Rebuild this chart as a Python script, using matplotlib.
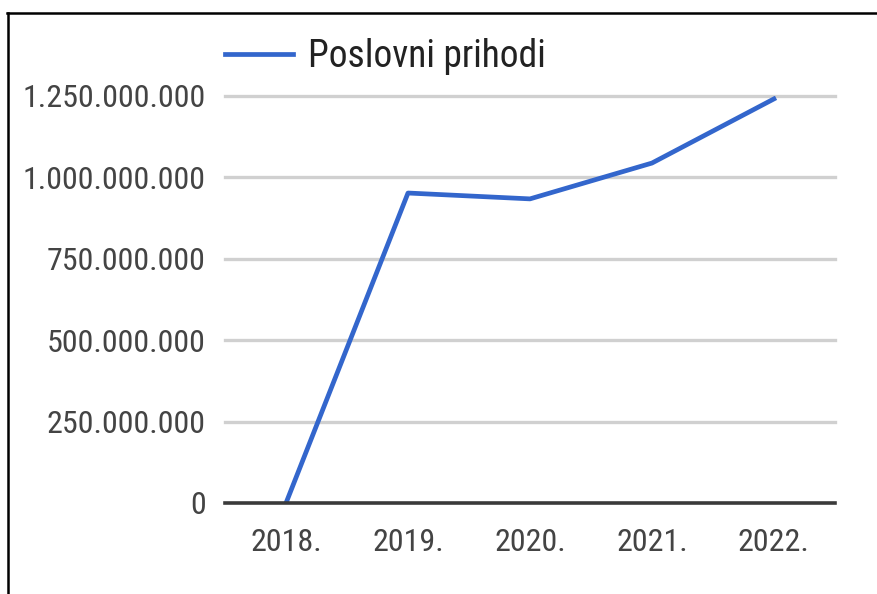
import matplotlib.pyplot as plt
from matplotlib.lines import Line2D
from matplotlib.ticker import FuncFormatter
from matplotlib import font_manager

years = ["2018.", "2019.", "2020.", "2021.", "2022."]
prihodi = [0, 952_000_000, 934_000_000, 1_044_000_000, 1_241_000_000]
y_ticks = [0, 250_000_000, 500_000_000, 750_000_000, 1_000_000_000, 1_250_000_000]
series_name = "Poslovni prihodi"

# narrow sans font like the screenshot, first one found
files = {f.fname.split('/')[-1]: f.fname for f in font_manager.fontManager.ttflist}
font_file = None
for want in ["RobotoCondensed-Regular.ttf", "LiberationSansNarrow-Regular.ttf",
             "ArchivoNarrow[wght].ttf", "PT_Sans-Narrow-Web-Regular.ttf", "DejaVuSansCondensed.ttf"]:
    if want in files:
        font_file = files[want]
        break
if font_file:
    fp = font_manager.FontProperties(fname=font_file, size=23)
    fp_leg = font_manager.FontProperties(fname=font_file, size=27)
else:
    fp = font_manager.FontProperties(size=20)
    fp_leg = font_manager.FontProperties(size=23)

fig = plt.figure(figsize=(8.77, 5.94), dpi=100)
ax = fig.add_axes([0.2566, 0.1532, 0.6954, 0.6852])

x = range(len(years))
for t in y_ticks[1:]:
    ax.axhline(t, color="#d0d0d0", lw=2.4, zorder=1, clip_on=False)
ax.axhline(0, color="#3a3a3a", lw=2.6, zorder=3, clip_on=False)
ax.plot(x, prihodi, color="#3366cc", lw=3.4, label=series_name, zorder=2)

ax.set_xlim(-0.5, 4.5)
ax.set_ylim(0, 1_250_000_000)
ax.set_xticks(list(x))
ax.set_xticklabels(years)
ax.set_yticks(y_ticks)
ax.yaxis.set_major_formatter(FuncFormatter(lambda v, p: f"{int(v):,}".replace(",", ".")))
ax.tick_params(axis="both", length=0, colors="#444444")
ax.tick_params(axis="x", pad=18)
ax.tick_params(axis="y", pad=14)
for lab in ax.get_xticklabels() + ax.get_yticklabels():
    lab.set_fontproperties(fp)
for s in ax.spines.values():
    s.set_visible(False)

leg = ax.legend(loc="center left", bbox_to_anchor=(0, 1.096), frameon=False, prop=fp_leg,
                handlelength=1.8, handletextpad=0.4, borderaxespad=0, borderpad=0)
for t in leg.get_texts():
    t.set_color("#222222")

# frame lines from the screenshot
fig.add_artist(Line2D([0.0095, 0.0095], [0, 1 - 13 / 594], color="black", lw=1.8))
fig.add_artist(Line2D([0.0085, 1.0], [1 - 13 / 594, 1 - 13 / 594], color="black", lw=1.8))

fig.savefig("out.png", dpi=100)
